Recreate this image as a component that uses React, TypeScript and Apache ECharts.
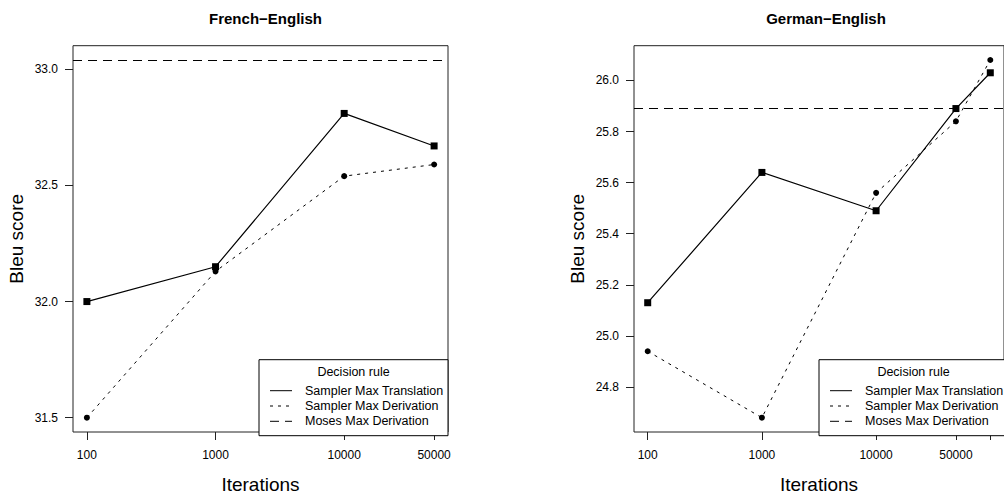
import React, { useEffect, useRef } from "react";
import * as echarts from "echarts";

// ---- data ----
const frIterations = [100, 1000, 10000, 50000];
const frTranslation = [32.0, 32.15, 32.81, 32.67];
const frDerivation = [31.5, 32.13, 32.54, 32.59];
const frMoses = 33.04;
const frYTicks = [31.5, 32.0, 32.5, 33.0];

const deIterations = [100, 1000, 10000, 50000, 100000];
const deTranslation = [25.13, 25.64, 25.49, 25.89, 26.03];
const deDerivation = [24.94, 24.68, 25.56, 25.84, 26.08];
const deMoses = 25.89;
const deYTicks = [24.8, 25.0, 25.2, 25.4, 25.6, 25.8, 26.0];
const deXLabelIterations = [100, 1000, 10000, 50000];

const titles = ["French\u2212English", "German\u2212English"];
const legendTitle = "Decision rule";
const legendLabels = ["Sampler Max Translation", "Sampler Max Derivation", "Moses Max Derivation"];
const xName = "Iterations";
const yName = "Bleu score";

const FONT = '"Liberation Sans", Arial, Helvetica, sans-serif';
const DOT: number[] = [3, 5];
const DASH: number[] = [9, 6];

function padRange(lo: number, hi: number) {
  const p = (hi - lo) * 0.04;
  return [lo - p, hi + p];
}

export default function App() {
  const ref = useRef<HTMLDivElement>(null);
  useEffect(() => {
    if (!ref.current) return;
    const chart = echarts.init(ref.current, undefined, { renderer: "svg" });

    const panels = [
      { it: frIterations, tr: frTranslation, dv: frDerivation, moses: frMoses, yTicks: frYTicks, xLab: frIterations, yRange: [31.5, 33.04], left: 73, width: 375 },
      { it: deIterations, tr: deTranslation, dv: deDerivation, moses: deMoses, yTicks: deYTicks, xLab: deXLabelIterations, yRange: [Math.min(...deDerivation), Math.max(...deDerivation)], left: 634, width: 374 },
    ];
    const top = 45.7;
    const height = 390;

    const grids: any[] = [];
    const xAxes: any[] = [];
    const yAxes: any[] = [];
    const series: any[] = [];
    const titleOpts: any[] = [];
    const graphics: any[] = [];

    panels.forEach((p, i) => {
      const lx = p.it.map((v) => Math.log10(v));
      const [xmin, xmax] = padRange(Math.min(...lx), Math.max(...lx));
      const [ymin, ymax] = padRange(p.yRange[0], p.yRange[1]);
      grids.push({ left: p.left, top, width: p.width, height, show: true, borderColor: "#222", borderWidth: 1, backgroundColor: "transparent" });
      titleOpts.push({
        text: titles[i], left: p.left + p.width / 2, top: 6, textAlign: "center",
        textStyle: { fontFamily: FONT, fontSize: 15, fontWeight: "bold", color: "#000" },
      });
      xAxes.push({
        type: "value", gridIndex: i, min: xmin, max: xmax,
        name: xName, nameLocation: "middle", nameGap: 43,
        nameTextStyle: { fontFamily: FONT, fontSize: 19, color: "#000" },
        axisLine: { show: false }, splitLine: { show: false },
        axisTick: { show: true, inside: false, length: 8, lineStyle: { color: "#222" }, customValues: lx },
        axisLabel: {
          customValues: p.xLab.map((v) => Math.log10(v)), margin: 17,
          fontFamily: FONT, fontSize: 12, color: "#000",
          formatter: (v: number) => String(Math.round(Math.pow(10, v))),
        },
      });
      yAxes.push({
        type: "value", gridIndex: i, min: ymin, max: ymax,
        name: yName, nameLocation: "middle", nameGap: 47, nameRotate: 90,
        nameTextStyle: { fontFamily: FONT, fontSize: 19, color: "#000" },
        axisLine: { show: false }, splitLine: { show: false },
        axisTick: { show: true, inside: false, length: 8, lineStyle: { color: "#222" }, customValues: p.yTicks },
        axisLabel: {
          customValues: p.yTicks, margin: 15, fontFamily: FONT, fontSize: 12, color: "#000",
          formatter: (v: number) => v.toFixed(1),
        },
      });
      series.push({
        type: "line", name: legendLabels[0], xAxisIndex: i, yAxisIndex: i,
        data: p.it.map((v, k) => [Math.log10(v), p.tr[k]]),
        symbol: "rect", symbolSize: 7, showSymbol: true,
        lineStyle: { color: "#000", width: 1.2, type: "solid" },
        itemStyle: { color: "#000" },
        markLine: {
          silent: true, symbol: "none", label: { show: false },
          lineStyle: { color: "#000", width: 1, type: DASH },
          data: [{ yAxis: p.moses }],
        },
      });
      series.push({
        type: "line", name: legendLabels[1], xAxisIndex: i, yAxisIndex: i,
        data: p.it.map((v, k) => [Math.log10(v), p.dv[k]]),
        symbol: "circle", symbolSize: 6, showSymbol: true,
        lineStyle: { color: "#000", width: 1, type: DOT },
        itemStyle: { color: "#000" },
      });

      // legend box (R-style, bottom-right of plot)
      const bw = 189, bh = 76;
      const bx = p.left + p.width - bw;
      const by = top + height - bh;
      graphics.push({ type: "rect", shape: { x: bx, y: by, width: bw, height: bh }, style: { fill: "#fff", stroke: "#000", lineWidth: 1 }, z: 10 });
      graphics.push({ type: "text", x: bx + bw / 2, y: by + 12, style: { text: legendTitle, font: `12.5px ${FONT}`, fill: "#000", align: "center", verticalAlign: "middle" }, z: 11 });
      const dashes = [null, DOT, DASH];
      legendLabels.forEach((lab, k) => {
        const ry = by + 31 + k * 15.3;
        graphics.push({ type: "line", shape: { x1: bx + 11, y1: ry, x2: bx + 33, y2: ry }, style: { stroke: "#000", lineWidth: 1, lineDash: dashes[k] || undefined }, z: 11 });
        graphics.push({ type: "text", x: bx + 46, y: ry, style: { text: lab, font: `12.5px ${FONT}`, fill: "#000", align: "left", verticalAlign: "middle" }, z: 11 });
      });
    });

    chart.setOption({
      animation: false,
      backgroundColor: "#fff",
      title: titleOpts,
      grid: grids,
      xAxis: xAxes,
      yAxis: yAxes,
      series,
      graphic: graphics,
    });
    return () => chart.dispose();
  }, []);
  return (
    <div style={{ position: "fixed", left: 0, top: 0, width: 1004, height: 499, overflow: "hidden", background: "#fff" }}>
      <div ref={ref} style={{ width: 1004, height: 499 }} />
    </div>
  );
}
